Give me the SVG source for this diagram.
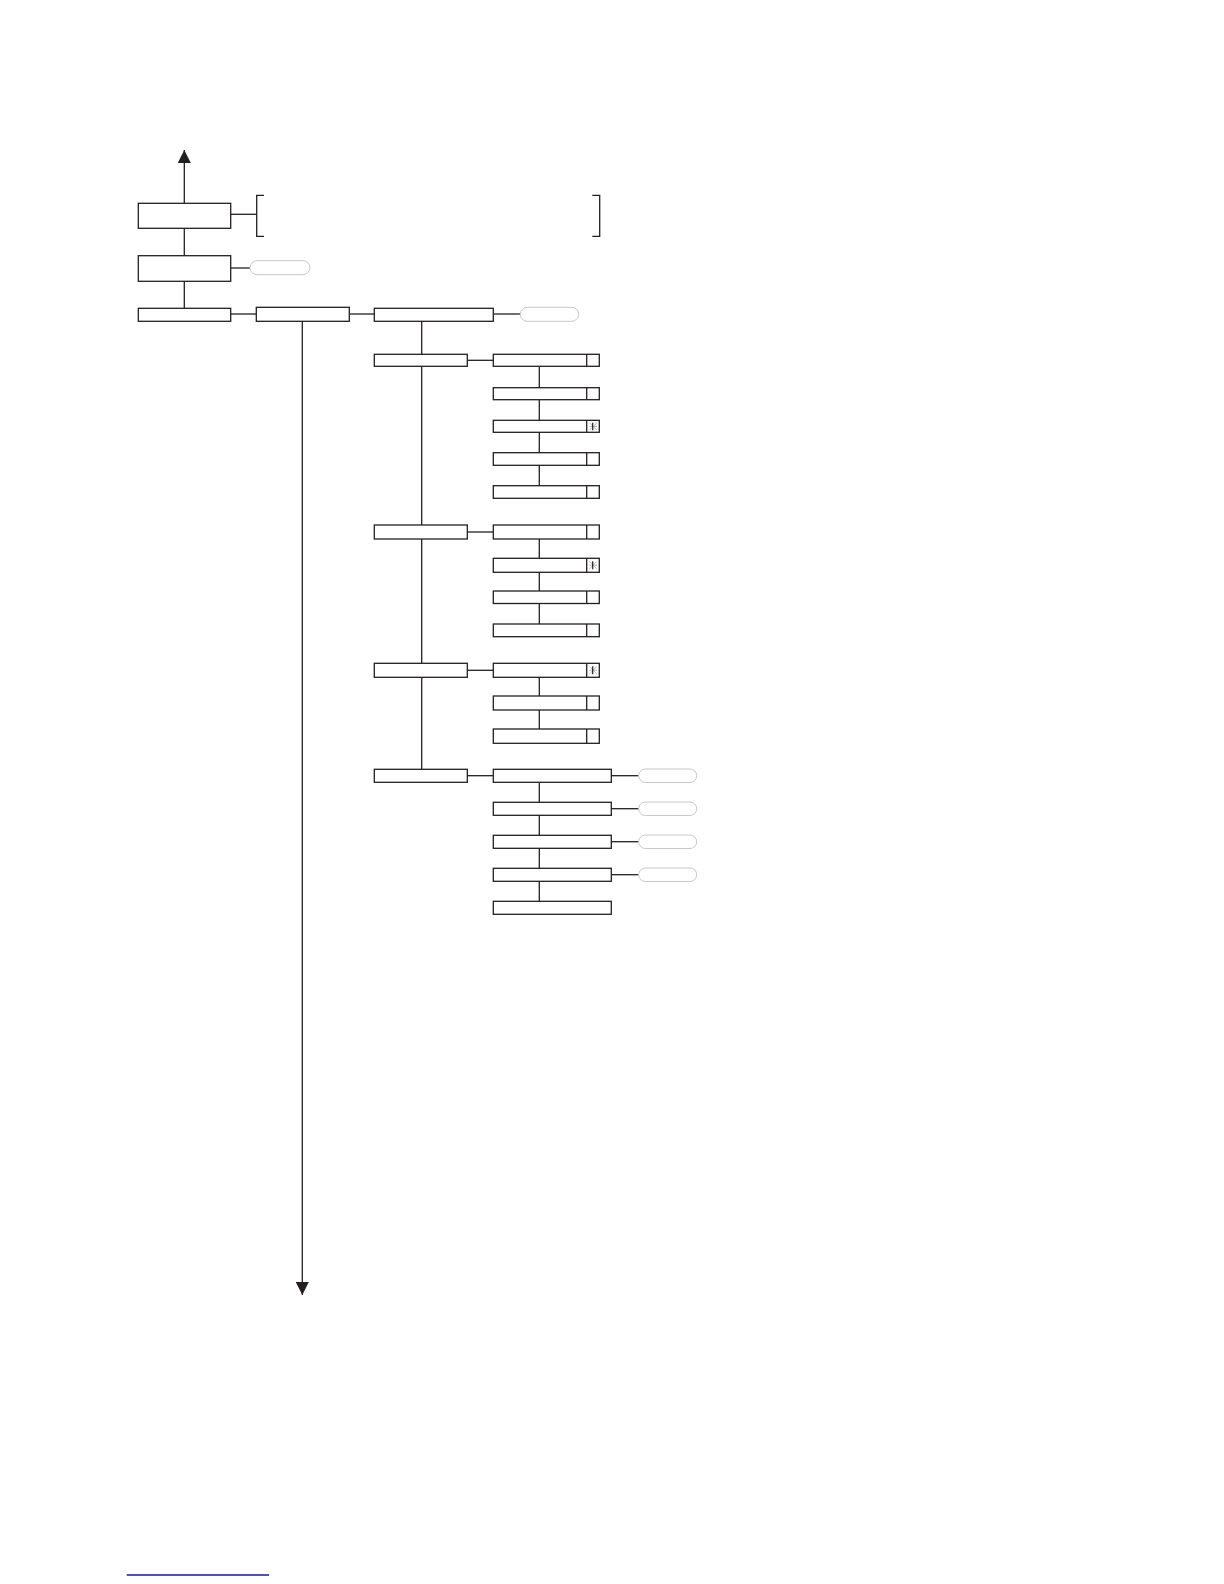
<svg xmlns="http://www.w3.org/2000/svg" width="1224" height="1584" viewBox="0 0 1224 1584">
<defs>
<style>
.b{fill:#fff;stroke:#231f20;stroke-width:1.3}
.c{fill:none;stroke:#231f20;stroke-width:1.3}
.o{fill:#fff;stroke:#c8c8c8;stroke-width:1}
.x{fill:none;stroke:#aaa;stroke-width:0.8}
.v{fill:none;stroke:#231f20;stroke-width:1.2}
</style>
<marker id="ah" viewBox="0 0 10 10" refX="10" refY="5" markerWidth="13" markerHeight="13" markerUnits="userSpaceOnUse" orient="auto">
<path d="M0,0 L10,5 L0,10 z" fill="#231f20"/>
</marker>
</defs>
<rect width="1224" height="1584" fill="#fff"/>
<g id="connectors">
<line class="c" x1="184.3" y1="203.3" x2="184.3" y2="150" marker-end="url(#ah)"/>
<line class="c" x1="184.3" y1="228.3" x2="184.3" y2="255.7"/>
<line class="c" x1="184.3" y1="281.3" x2="184.3" y2="308.3"/>
<line class="c" x1="230.7" y1="214.3" x2="256.7" y2="214.3"/>
<path class="c" d="M264,195.3 H256.7 V236.3 H264"/>
<path class="c" d="M592.3,195.3 H599.7 V236.3 H592.3"/>
<line class="c" x1="230.7" y1="268" x2="250" y2="268"/>
<line class="c" x1="230.7" y1="314" x2="256.3" y2="314"/>
<line class="c" x1="349.3" y1="314" x2="374.3" y2="314"/>
<line class="c" x1="493.3" y1="314" x2="520.3" y2="314"/>
<line class="c" x1="302.3" y1="321.3" x2="302.3" y2="1295" marker-end="url(#ah)"/>
<line class="c" x1="421.7" y1="321.3" x2="421.7" y2="769.3"/>
<line class="c" x1="467.3" y1="360.3" x2="493.3" y2="360.3"/>
<line class="c" x1="467.3" y1="532" x2="493.3" y2="532"/>
<line class="c" x1="467.3" y1="670.3" x2="493.3" y2="670.3"/>
<line class="c" x1="467.3" y1="775.7" x2="493.3" y2="775.7"/>
<line class="c" x1="539.3" y1="366.3" x2="539.3" y2="485.7"/>
<line class="c" x1="539.3" y1="539" x2="539.3" y2="624"/>
<line class="c" x1="539.3" y1="677" x2="539.3" y2="729"/>
<line class="c" x1="539.3" y1="782.3" x2="539.3" y2="901.3"/>
<line class="c" x1="611.3" y1="775.7" x2="638.7" y2="775.7"/>
<line class="c" x1="611.3" y1="808.7" x2="638.7" y2="808.7"/>
<line class="c" x1="611.3" y1="841.7" x2="638.7" y2="841.7"/>
<line class="c" x1="611.3" y1="874.7" x2="638.7" y2="874.7"/>
</g>
<g id="top">
<rect id="n1" class="b" x="138.3" y="203.3" width="92.4" height="25"/>
<rect id="n2" class="b" x="138.3" y="255.7" width="92.4" height="25.6"/>
<rect id="n2o" class="o" x="250" y="260.7" width="60" height="14" rx="7"/>
<rect id="n3" class="b" x="138.3" y="308.3" width="92.4" height="13"/>
<rect id="n4" class="b" x="256.3" y="307.3" width="93" height="14"/>
<rect id="n5" class="b" x="374.3" y="308.3" width="119" height="13"/>
<rect id="n5o" class="o" x="520.3" y="307.3" width="58.4" height="14" rx="7"/>
</g>
<g id="group1">
<rect class="b" x="374.3" y="354.3" width="93" height="12"/>
<g id="g1r1"><rect class="b" x="493.3" y="354.3" width="106" height="12"/><line class="c" x1="586.7" y1="354.3" x2="586.7" y2="366.3"/></g>
<g id="g1r2"><rect class="b" x="493.3" y="387.7" width="106" height="12"/><line class="c" x1="586.7" y1="387.7" x2="586.7" y2="399.7"/></g>
<g id="g1r3"><rect class="b" x="493.3" y="420.3" width="106" height="12"/><line class="c" x1="586.7" y1="420.3" x2="586.7" y2="432.3"/><path class="x" d="M589.7,423 L596.7,430 M596.7,423 L589.7,430 M589.5,426.5 H597"/><line class="v" x1="592.7" y1="422.7" x2="592.7" y2="430.3"/></g>
<g id="g1r4"><rect class="b" x="493.3" y="452.7" width="106" height="12.6"/><line class="c" x1="586.7" y1="452.7" x2="586.7" y2="465.3"/></g>
<g id="g1r5"><rect class="b" x="493.3" y="485.7" width="106" height="12.6"/><line class="c" x1="586.7" y1="485.7" x2="586.7" y2="498.3"/></g>
</g>
<g id="group2">
<rect class="b" x="374.3" y="525" width="93" height="14"/>
<g id="g2r1"><rect class="b" x="493.3" y="525" width="106" height="14"/><line class="c" x1="586.7" y1="525" x2="586.7" y2="539"/></g>
<g id="g2r2"><rect class="b" x="493.3" y="558.3" width="106" height="14"/><line class="c" x1="586.7" y1="558.3" x2="586.7" y2="572.3"/><path class="x" d="M589.7,561.5 L596.7,568.8 M596.7,561.5 L589.7,568.8 M589.5,565.2 H597"/><line class="v" x1="592.7" y1="561.3" x2="592.7" y2="569.3"/></g>
<g id="g2r3"><rect class="b" x="493.3" y="591" width="106" height="12.5"/><line class="c" x1="586.7" y1="591" x2="586.7" y2="603.5"/></g>
<g id="g2r4"><rect class="b" x="493.3" y="624" width="106" height="12.7"/><line class="c" x1="586.7" y1="624" x2="586.7" y2="636.7"/></g>
</g>
<g id="group3">
<rect class="b" x="374.3" y="663.3" width="93" height="14"/>
<g id="g3r1"><rect class="b" x="493.3" y="663.3" width="106" height="14"/><line class="c" x1="586.7" y1="663.3" x2="586.7" y2="677.3"/><path class="x" d="M589.7,666.5 L596.7,673.8 M596.7,666.5 L589.7,673.8 M589.5,670.2 H597"/><line class="v" x1="592.7" y1="666.3" x2="592.7" y2="674.3"/></g>
<g id="g3r2"><rect class="b" x="493.3" y="696" width="106" height="14"/><line class="c" x1="586.7" y1="696" x2="586.7" y2="710"/></g>
<g id="g3r3"><rect class="b" x="493.3" y="729" width="106" height="14.3"/><line class="c" x1="586.7" y1="729" x2="586.7" y2="743.3"/></g>
</g>
<g id="group4">
<rect class="b" x="374.3" y="769.3" width="93" height="13"/>
<rect id="g4r1" class="b" x="493.3" y="769.3" width="118" height="13"/>
<rect id="g4r2" class="b" x="493.3" y="802.3" width="118" height="13"/>
<rect id="g4r3" class="b" x="493.3" y="835.3" width="118" height="13"/>
<rect id="g4r4" class="b" x="493.3" y="868.3" width="118" height="13"/>
<rect id="g4r5" class="b" x="493.3" y="901.3" width="118" height="13"/>
<rect id="g4o1" class="o" x="638.7" y="769" width="58" height="13.5" rx="6.7"/>
<rect id="g4o2" class="o" x="638.7" y="802" width="58" height="13.5" rx="6.7"/>
<rect id="g4o3" class="o" x="638.7" y="835" width="58" height="13.5" rx="6.7"/>
<rect id="g4o4" class="o" x="638.7" y="868" width="58" height="13.5" rx="6.7"/>
</g>
<line x1="126.7" y1="1575" x2="269" y2="1575" stroke="#1a1a8a" stroke-width="1.3"/>
</svg>
